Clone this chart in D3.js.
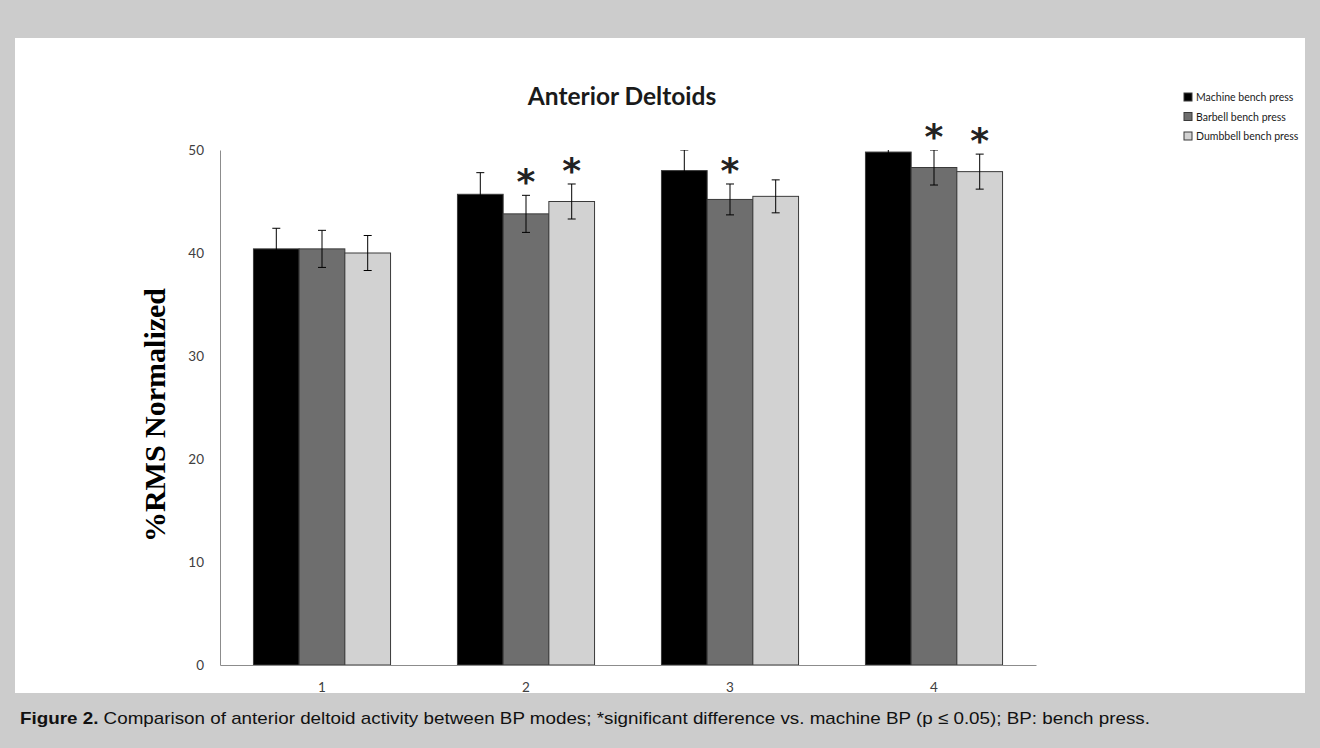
<!DOCTYPE html>
<html><head><meta charset="utf-8">
<script src="https://cdn.jsdelivr.net/npm/d3@7"></script>
<style>
html,body{margin:0;padding:0;background:#cccccc;}
svg{display:block;}
</style></head>
<body>
<svg id="c" width="1320" height="748"></svg>
<script>
const categories = ["1","2","3","4"];
const seriesNames = ["Machine bench press","Barbell bench press","Dumbbell bench press"];
const machine = [40.4, 45.7, 48.0, 49.8];
const barbell = [40.4, 43.8, 45.2, 48.3];
const dumbbell = [40.0, 45.0, 45.5, 47.9];
const machineErr = [2.0, 2.1, 2.0, 1.8];
const barbellErr = [1.8, 1.8, 1.5, 1.7];
const dumbbellErr = [1.7, 1.7, 1.6, 1.7];
const machineSig = [false,false,false,false];
const barbellSig = [false,true,true,true];
const dumbbellSig = [false,true,false,true];
const yTicks = [0,10,20,30,40,50];

const colors = ["#000000","#6e6e6e","#d2d2d2"];
const series = [
  {name:seriesNames[0], values:machine, err:machineErr, sig:machineSig},
  {name:seriesNames[1], values:barbell, err:barbellErr, sig:barbellSig},
  {name:seriesNames[2], values:dumbbell, err:dumbbellErr, sig:dumbbellSig}
];

const svg = d3.select("#c");
svg.append("rect").attr("x",0).attr("y",0).attr("width",1320).attr("height",748).attr("fill","#cccccc");
svg.append("rect").attr("x",15).attr("y",38).attr("width",1290).attr("height",655).attr("fill","#ffffff");

const pL = 220, pR = 1036, pT = 150, pB = 665;
const x0 = d3.scaleBand().domain(categories).range([pL,pR]).paddingInner(0.328).paddingOuter(0.164);
const x1 = d3.scaleBand().domain([0,1,2]).range([0,x0.bandwidth()]);
const y = d3.scaleLinear().domain([0,50]).range([pB,pT]);

const defs = svg.append("defs");
defs.append("clipPath").attr("id","plot").append("rect")
  .attr("x",pL).attr("y",pT).attr("width",pR-pL).attr("height",pB-pT);

const g = svg.append("g");
series.forEach((s,si)=>{
  g.selectAll(null).data(categories).enter().append("rect")
    .attr("x",d=>x0(d)+x1(si))
    .attr("y",(d,i)=>y(s.values[i]))
    .attr("width",x1.bandwidth())
    .attr("height",(d,i)=>y(0)-y(s.values[i]))
    .attr("fill",colors[si])
    .attr("stroke","#3a3a3a").attr("stroke-width",1);
});
const eg = svg.append("g").attr("clip-path","url(#plot)").attr("stroke","#000").attr("stroke-width",1);
series.forEach((s,si)=>{
  categories.forEach((d,i)=>{
    const cx = x0(d)+x1(si)+x1.bandwidth()/2;
    const hi = y(s.values[i]+s.err[i]), lo = y(s.values[i]-s.err[i]);
    eg.append("line").attr("x1",cx).attr("x2",cx).attr("y1",hi).attr("y2",lo);
    eg.append("line").attr("x1",cx-4).attr("x2",cx+4).attr("y1",hi).attr("y2",hi);
    eg.append("line").attr("x1",cx-4).attr("x2",cx+4).attr("y1",lo).attr("y2",lo);
    if(s.sig[i]){
      svg.append("text").attr("x",cx).attr("y",hi-27)
        .attr("text-anchor","middle").attr("dy","0.72em")
        .attr("font-family","DejaVu Sans").attr("font-weight","bold").attr("font-size",36)
        .attr("fill","#222")
        .text("*");
    }
  });
});

const yAxis = d3.axisLeft(y).tickValues(yTicks).tickSize(0).tickPadding(16);
const ya = svg.append("g").attr("transform",`translate(${pL},0)`).call(yAxis);
ya.select(".domain").attr("stroke","#8c8c8c");
ya.selectAll("text").attr("font-family","Lato").attr("font-size",13.5).attr("fill","#404040");

const xAxis = d3.axisBottom(x0).tickSize(0).tickPadding(17);
const xa = svg.append("g").attr("transform",`translate(0,${pB})`).call(xAxis);
xa.select(".domain").attr("stroke","#8c8c8c");
xa.selectAll("text").attr("font-family","Lato").attr("font-size",13.5).attr("fill","#404040");

svg.append("text").attr("x",622).attr("y",105).attr("text-anchor","middle")
  .attr("font-family","Lato").attr("font-weight","bold").attr("font-size",24.5).attr("fill","#1a1a1a")
  .text("Anterior Deltoids");

svg.append("text").attr("transform","translate(165,415) rotate(-90)").attr("text-anchor","middle")
  .attr("font-family","Liberation Serif").attr("font-weight","bold").attr("font-size",30).attr("fill","#000")
  .text("%RMS Normalized");

const lg = svg.append("g").attr("transform","translate(1184,93)");
seriesNames.forEach((n,i)=>{
  lg.append("rect").attr("x",0).attr("y",i*19.5).attr("width",8).attr("height",8)
    .attr("fill",colors[i]).attr("stroke","#3a3a3a").attr("stroke-width",1);
  lg.append("text").attr("x",12).attr("y",i*19.5+8).attr("font-family","Lato").attr("font-size",10.5).attr("fill","#1a1a1a").text(n);
});

const cap = svg.append("text").attr("x",20).attr("y",724).attr("font-family","Liberation Sans").attr("font-size",17)
  .attr("fill","#111").attr("textLength",1130).attr("lengthAdjust","spacingAndGlyphs");
cap.append("tspan").attr("font-weight","bold").text("Figure 2.");
cap.append("tspan").text(" Comparison of anterior deltoid activity between BP modes; *significant difference vs. machine BP (p \u2264 0.05); BP: bench press.");
</script>
</body></html>
